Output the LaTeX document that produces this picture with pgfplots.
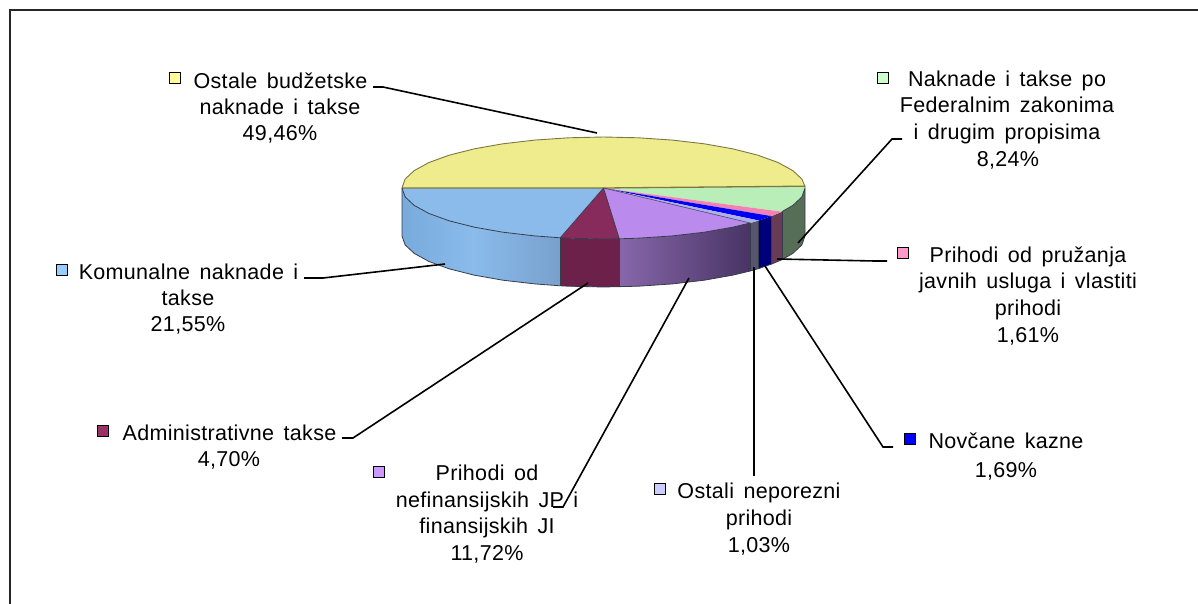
\documentclass[border=0pt]{standalone}
\usepackage{pgfplots}
\pgfplotsset{compat=1.18}
\usepackage{fontspec}
\setmainfont[LetterSpace=1.5,WordSpace=1.5]{Liberation Sans}
\definecolor{yT}{RGB}{238,236,140}\definecolor{yE}{RGB}{125,120,65}
\definecolor{gT}{RGB}{185,238,185}\definecolor{gS}{RGB}{85,110,85}
\definecolor{pT}{RGB}{240,130,180}\definecolor{pS}{RGB}{105,60,85}
\definecolor{nT}{RGB}{0,0,240}\definecolor{nS}{RGB}{0,0,120}
\definecolor{lT}{RGB}{175,175,235}\definecolor{lS}{RGB}{85,85,110}
\definecolor{vT}{RGB}{186,138,236}\definecolor{vA}{RGB}{135,103,170}\definecolor{vB}{RGB}{72,52,100}
\definecolor{mT}{RGB}{135,42,92}\definecolor{mS}{RGB}{108,33,75}
\definecolor{bT}{RGB}{139,187,235}\definecolor{bA}{RGB}{120,170,220}\definecolor{bM}{RGB}{138,187,235}\definecolor{bB}{RGB}{120,160,205}
\definecolor{eD}{RGB}{55,60,75}
\definecolor{kY}{RGB}{255,255,153}\definecolor{kG}{RGB}{204,255,204}\definecolor{kP}{RGB}{255,153,204}
\definecolor{kN}{RGB}{0,0,255}\definecolor{kL}{RGB}{204,204,255}\definecolor{kV}{RGB}{204,153,255}
\definecolor{kM}{RGB}{153,51,102}\definecolor{kB}{RGB}{153,204,255}
\pgfplotsset{leader/.style={black,line width=1.6pt},
 key/.style={only marks,mark=square*,mark size=5.5pt,mark options={draw=black,line width=1.2pt,fill=#1}}}
\newcommand{\lbl}[3]{\node[inner sep=0pt,anchor=base,yshift=-7.7pt] at (axis cs:#1,#2) {\fontsize{21.5}{26}\selectfont #3};}
\begin{document}
\begin{tikzpicture}
\begin{axis}[scale only axis,width=1198pt,height=604pt,xmin=0,xmax=1198,ymin=0,ymax=604,y dir=reverse,hide axis,clip=true]
% page extent
\addplot[draw=none] coordinates {(0,0)(1198,604)};
% frame
\addplot[black!85,line width=2pt] coordinates {(1198,10)(10,10)(10,604)};
% side faces
\addplot[fill=gS,draw=none] coordinates {(805,188)(801.9,196.9)(792.8,205.4)(781.9,211.7)(781.9,259.7)(792.8,253.4)(801.9,244.9)(805,236)(805,188)};
\addplot[fill=pS,draw=none] coordinates {(781.9,211.7)(771.5,216.1)(771.5,264.1)(781.9,259.7)(781.9,211.7)};
\addplot[fill=nS,draw=none] coordinates {(771.5,216.1)(758.8,220.5)(758.8,268.5)(771.5,264.1)(771.5,216.1)};
\addplot[fill=lS,draw=none] coordinates {(758.8,220.5)(750.2,223)(750.2,271)(758.8,268.5)(758.8,220.5)};
\addplot[left color=vA,right color=vB,draw=none] coordinates {(750.2,223)(733,227.1)(704.3,232.2)(672.4,235.9)(638.5,238.2)(619.3,238.8)(619.3,286.8)(638.5,286.2)(672.4,283.9)(704.3,280.2)(733,275.1)(750.2,271)(750.2,223)};
\addplot[fill=mS,draw=none] coordinates {(619.3,238.8)(603.5,239)(568.5,238.2)(560.2,237.8)(560.2,285.8)(568.5,286.2)(603.5,287)(619.3,286.8)(619.3,238.8)};
\addplot[left color=bM,right color=bB,draw=none] coordinates {(560.2,237.8)(534.6,235.9)(502.8,232.2)(474,227.1)(474,275.1)(502.8,280.2)(534.6,283.9)(560.2,285.8)(560.2,237.8)};
\addplot[left color=bA,right color=bM,draw=none] coordinates {(474,227.1)(449.1,220.8)(429,213.5)(414.2,205.4)(405.1,196.9)(402,188)(402,236)(405.1,244.9)(414.2,253.4)(429,261.5)(449.1,268.8)(474,275.1)(474,227.1)};
% top faces
\addplot[fill=yT,draw=none] coordinates {(603.5,188)(402,188)(405.1,179.1)(414.2,170.6)(429,162.5)(449.1,155.2)(474,148.9)(502.8,143.8)(534.6,140.1)(568.5,137.8)(603.5,137)(638.5,137.8)(672.4,140.1)(704.3,143.8)(733,148.9)(757.9,155.2)(778,162.5)(792.8,170.6)(801.9,179.1)(804.9,186.2)(603.5,188)};
\addplot[fill=gT,draw=none] coordinates {(603.5,188)(804.9,186.2)(805,188)(801.9,196.9)(792.8,205.4)(781.9,211.7)(603.5,188)};
\addplot[fill=pT,draw=none] coordinates {(603.5,188)(781.9,211.7)(771.5,216.1)(603.5,188)};
\addplot[fill=nT,draw=none] coordinates {(603.5,188)(771.5,216.1)(758.8,220.5)(603.5,188)};
\addplot[fill=lT,draw=none] coordinates {(603.5,188)(758.8,220.5)(750.2,223)(603.5,188)};
\addplot[fill=vT,draw=none] coordinates {(603.5,188)(750.2,223)(733,227.1)(704.3,232.2)(672.4,235.9)(638.5,238.2)(619.3,238.8)(603.5,188)};
\addplot[fill=mT,draw=none] coordinates {(603.5,188)(619.3,238.8)(603.5,239)(568.5,238.2)(560.2,237.8)(603.5,188)};
\addplot[fill=bT,draw=none] coordinates {(603.5,188)(560.2,237.8)(534.6,235.9)(502.8,232.2)(474,227.1)(449.1,220.8)(429,213.5)(414.2,205.4)(405.1,196.9)(402,188)(603.5,188)};
% edges
\addplot[yE,line width=.9pt] coordinates {(402,188)(405.1,179.1)(414.2,170.6)(429,162.5)(449.1,155.2)(474,148.9)(502.8,143.8)(534.6,140.1)(568.5,137.8)(603.5,137)(638.5,137.8)(672.4,140.1)(704.3,143.8)(733,148.9)(757.9,155.2)(778,162.5)(792.8,170.6)(801.9,179.1)(804.9,186.2)};
\addplot[yE,line width=1.3pt] coordinates {(402,188)(603.5,188)(804.9,186.2)};
\addplot[eD,line width=.8pt] coordinates {(402,188)(405.1,196.9)(414.2,205.4)(429,213.5)(449.1,220.8)(474,227.1)(502.8,232.2)(534.6,235.9)(560.2,237.8)(568.5,238.2)(603.5,239)(619.3,238.8)(638.5,238.2)(672.4,235.9)(704.3,232.2)(733,227.1)(750.2,223)};
\addplot[eD,line width=.8pt] coordinates {(402,188)(402,236)(405.1,244.9)(414.2,253.4)(429,261.5)(449.1,268.8)(474,275.1)(502.8,280.2)(534.6,283.9)(560.2,285.8)(568.5,286.2)(603.5,287)(638.5,286.2)(672.4,283.9)(704.3,280.2)(733,275.1)(750.2,271)(758.8,268.5)(771.5,264.1)(781.9,259.7)(792.8,253.4)(801.9,244.9)(805,236)(805,188)(801.9,196.9)(792.8,205.4)(781.9,211.7)};
\addplot[eD,line width=.7pt] coordinates {(560.2,237.8)(560.2,285.8)};
\addplot[eD,line width=.7pt] coordinates {(619.3,238.8)(619.3,286.8)};
\addplot[eD,line width=.7pt] coordinates {(750.2,223)(750.2,271)};
\addplot[eD,line width=.7pt] coordinates {(758.8,220.5)(758.8,268.5)};
\addplot[eD,line width=.7pt] coordinates {(771.5,216.1)(771.5,264.1)};
\addplot[eD,line width=.7pt] coordinates {(781.9,211.7)(781.9,259.7)};
\addplot[eD,line width=.7pt] coordinates {(603.5,188)(560.2,237.8)};
\addplot[eD,line width=.7pt] coordinates {(603.5,188)(619.3,238.8)};
\addplot[eD,line width=.5pt] coordinates {(603.5,188)(750.2,223)};
% leaders
\addplot[leader] coordinates {(373,87)(383,87)(597,133)};
\addplot[leader] coordinates {(902,139)(892,139)(798,243)};
\addplot[leader] coordinates {(887,261)(875,261)(777,259)};
\addplot[leader] coordinates {(893,447)(883,447)(765,266)};
\addplot[leader] coordinates {(754,267)(754,476)};
\addplot[leader] coordinates {(689,278)(563,507)(553,507)};
\addplot[leader] coordinates {(342,438)(353,438)(588,283)};
\addplot[leader] coordinates {(445,264)(323,278)(304,278)};
% legend keys
\addplot[key=kY] coordinates {(175,78)};
\addplot[key=kG] coordinates {(883,78)};
\addplot[key=kP] coordinates {(903,253)};
\addplot[key=kN] coordinates {(910,439)};
\addplot[key=kL] coordinates {(660,489)};
\addplot[key=kV] coordinates {(379,472)};
\addplot[key=kM] coordinates {(103,431)};
\addplot[key=kB] coordinates {(62,270)};
% labels
\lbl{280.5}{81}{Ostale budžetske}
\lbl{280}{107}{naknade i takse}
\lbl{280}{133}{49,46\%}
\lbl{1007}{79}{Naknade i takse po}
\lbl{1007}{105}{Federalnim zakonima}
\lbl{1007}{132}{i drugim propisima}
\lbl{1008}{159}{8,24\%}
\lbl{1028}{255}{Prihodi od pružanja}
\lbl{1028}{281}{javnih usluga i vlastiti}
\lbl{1028}{308}{prihodi}
\lbl{1028}{335}{1,61\%}
\lbl{1006}{441}{Novčane kazne}
\lbl{1006}{470}{1,69\%}
\lbl{759}{491}{Ostali neporezni}
\lbl{759}{518}{prihodi}
\lbl{759}{545}{1,03\%}
\lbl{487}{473}{Prihodi od}
\lbl{487}{500}{nefinansijskih JP i}
\lbl{487}{526}{finansijskih JI}
\lbl{487}{553}{11,72\%}
\lbl{229.5}{433}{Administrativne takse}
\lbl{229}{459}{4,70\%}
\lbl{188.5}{272}{Komunalne naknade i}
\lbl{188}{298}{takse}
\lbl{188}{324}{21,55\%}
\end{axis}
\end{tikzpicture}
\end{document}
